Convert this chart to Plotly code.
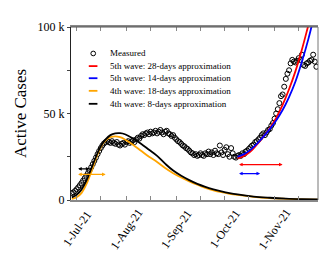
import pandas as pd
import plotly.graph_objects as go

# ---------------- data ----------------
base_date = pd.Timestamp("2021-07-01")
measured_start = "2021-06-28"
measured_k = [
    4.0, 4.4, 5.2, 6.2, 7.3, 8.5, 9.8, 11.2, 12.6, 14.0,
    15.5, 17.0, 18.8, 20.7, 22.6, 24.5, 26.5, 28.3, 30.0, 31.5,
    32.7, 33.5, 34.0, 33.5, 33.0, 34.0, 33.0, 32.5, 33.5, 32.0,
    31.5, 32.5, 33.0, 32.0, 33.5, 34.0, 33.0, 33.5, 34.5, 33.5,
    35.0, 36.0, 35.5, 37.0, 38.0, 37.5, 38.5, 39.0, 38.0, 39.5,
    38.5, 39.0, 40.0, 38.5, 39.5, 40.5, 39.0, 38.0, 39.5, 40.0,
    38.5, 38.0, 37.0, 37.5, 36.0, 35.0, 34.0, 33.5, 32.5, 31.5,
    31.0, 30.0, 29.5, 28.5, 27.5, 27.0, 26.0, 26.5, 25.5, 26.0,
    27.0, 26.0, 25.5, 27.0, 26.5, 28.0, 26.5, 27.5, 26.0, 28.5,
    27.0, 26.5, 31.5, 27.5, 26.0, 29.0, 30.5, 26.5, 25.0, 30.0,
    27.0, 25.0, 24.5, 25.5, 26.0, 25.5, 27.0, 26.5, 28.0, 28.5,
    29.5, 30.5, 31.5, 32.0, 33.5, 34.0, 35.0, 36.0, 37.5, 38.5,
    37.5, 39.0, 40.5, 41.0, 43.0, 44.5, 47.0, 50.0, 52.5, 56.0,
    60.0, 61.0, 65.5, 70.0, 73.0, 75.0, 79.0, 81.0, 80.0, 79.5,
    80.5, 82.0, 81.0, 84.0, 78.0, 77.5, 79.0, 79.5, 80.5, 81.0,
    84.0, 80.0, 77.0,
]

# model curves: day offset from 1-Jul-21 and value (thousands)
black_days = [-3, 0, 3, 6, 9, 12, 15, 18, 21, 24, 27, 30, 35, 40, 45, 50, 55, 60,
              65, 70, 75, 80, 85, 90, 95, 100, 110, 120, 130, 140, 150]
black_k = [1.5, 3.0, 6.0, 11.0, 18.0, 25.0, 31.0, 35.0, 37.5, 38.5, 38.6, 38.0,
           35.5, 32.5, 29.0, 25.5, 21.0, 17.0, 14.0, 11.5, 9.3, 7.6, 6.2, 5.0,
           4.0, 3.2, 2.0, 1.3, 0.8, 0.5, 0.3]
orange_days = [-3, 0, 3, 6, 9, 12, 15, 18, 21, 24, 27, 30, 35, 40, 45, 50, 55, 60,
               65, 70, 75, 80, 85, 90, 95, 100, 110, 120, 130, 140, 150]
orange_k = [0.6, 1.6, 4.0, 9.0, 16.0, 24.0, 30.5, 34.5, 36.3, 36.8, 36.3, 35.0,
            32.0, 28.5, 25.0, 22.0, 18.5, 15.5, 13.0, 10.8, 8.8, 7.0, 5.6, 4.5,
            3.6, 2.9, 1.8, 1.1, 0.7, 0.4, 0.2]
red_days = [100, 104, 108, 112, 116, 120, 124, 128, 132, 136, 140, 144, 146]
red_k = [24.0, 25.5, 28.0, 32.0, 36.5, 41.5, 47.5, 55.0, 64.0, 74.5, 87.0, 101.0, 108.0]
blue_days = [100, 104, 108, 112, 116, 120, 124, 128, 132, 136, 140, 144, 148]
blue_k = [25.0, 26.5, 29.0, 32.5, 36.5, 41.0, 46.0, 52.0, 59.5, 68.5, 80.0, 93.0, 108.0]

# horizontal window arrows: (start, end, level in thousands)
arrow_red = ("2021-10-09", "2021-11-06", 20.5)
arrow_blue = ("2021-10-09", "2021-10-23", 15.3)
arrow_black = ("2021-07-01", "2021-07-09", 18.0)
arrow_orange = ("2021-07-01", "2021-07-19", 14.8)

x_tick_vals = ["2021-07-01", "2021-07-16", "2021-08-01", "2021-08-16", "2021-09-01",
               "2021-09-16", "2021-10-01", "2021-10-16", "2021-11-01", "2021-11-16"]
x_label_vals = ["2021-07-01", "2021-08-01", "2021-09-01", "2021-10-01", "2021-11-01"]
x_label_text = ["1-Jul-21", "1-Aug-21", "1-Sep-21", "1-Oct-21", "1-Nov-21"]
y_tick_vals = [0, 25000, 50000, 75000, 100000]
y_tick_text = ["0", "", "50 k", "", "100 k"]

names = ["Measured", "5th wave: 28-days approximation", "5th wave: 14-days approximation",
         "4th wave: 18-days approximation", "4th wave: 8-days approximation"]
colors = ["#000000", "#ff0000", "#0000ff", "#ffa500", "#000000"]

# ---------------- figure ----------------
FONT = "Liberation Serif, Times New Roman, serif"

def to_dates(days):
    return [base_date + pd.Timedelta(days=d) for d in days]

measured_x = pd.date_range(measured_start, periods=len(measured_k), freq="D")

fig = go.Figure()
fig.add_trace(go.Scatter(
    x=measured_x, y=[v * 1000 for v in measured_k], mode="markers", name=names[0],
    marker=dict(symbol="circle-open", size=5, color="black", line=dict(width=1)),
))
for days, vals, color, nm in [
    (red_days, red_k, colors[1], names[1]),
    (blue_days, blue_k, colors[2], names[2]),
    (orange_days, orange_k, colors[3], names[3]),
    (black_days, black_k, colors[4], names[4]),
]:
    fig.add_trace(go.Scatter(
        x=to_dates(days), y=[v * 1000 for v in vals], mode="lines", name=nm,
        line=dict(color=color, width=1.8, shape="spline"),
    ))

for (s, e, lvl), color in [(arrow_red, colors[1]), (arrow_blue, colors[2]),
                           (arrow_black, "#000000"), (arrow_orange, colors[3])]:
    fig.add_annotation(
        x=e, y=lvl * 1000, ax=s, ay=lvl * 1000, xref="x", yref="y", axref="x", ayref="y",
        text="", showarrow=True, arrowside="end+start", arrowhead=2, arrowsize=0.6,
        arrowwidth=1.2, arrowcolor=color,
    )

for v, t in zip(x_label_vals, x_label_text):
    fig.add_annotation(
        x=v, y=-0.166, xref="x", yref="paper", text=t, showarrow=False, textangle=-55,
        xanchor="center", yanchor="middle", font=dict(family=FONT, size=12, color="black"),
    )

# hand-drawn legend (compact rows like the reference)
leg_rows = [0.847, 0.774, 0.704, 0.631, 0.556]
for i, (nm, col, ry) in enumerate(zip(names, colors, leg_rows)):
    if i == 0:
        fig.add_shape(type="circle", xref="paper", yref="paper",
                      x0=0.0805, x1=0.0995, y0=ry - 0.0135, y1=ry + 0.0135,
                      line=dict(color="black", width=1))
    else:
        fig.add_shape(type="line", xref="paper", yref="paper",
                      x0=0.072, x1=0.107, y0=ry, y1=ry, line=dict(color=col, width=1.8))
    fig.add_annotation(x=0.148, y=ry, xref="paper", yref="paper", text=nm,
                       showarrow=False, xanchor="left", yanchor="middle",
                       font=dict(family=FONT, size=9, color="black"))

# frame: top and right border lines
fig.add_shape(type="line", xref="paper", yref="paper", x0=0, x1=1, y0=1, y1=1,
              line=dict(color="#555555", width=1))
fig.add_shape(type="line", xref="paper", yref="paper", x0=1, x1=1, y0=0, y1=1,
              line=dict(color="#777777", width=1))

fig.update_layout(
    width=322, height=247,
    margin=dict(l=54, r=12, t=17, b=55),
    paper_bgcolor="white", plot_bgcolor="white",
    font=dict(family=FONT, size=12, color="black"),
    showlegend=False,
    xaxis=dict(
        type="date", range=["2021-06-27T12:00", "2021-11-28"],
        tickvals=x_tick_vals, ticktext=[""] * len(x_tick_vals),
        ticks="inside", ticklen=4, tickcolor="#888888", mirror="ticks",
        showline=True, linecolor="#888888", linewidth=2, showgrid=False, zeroline=False,
    ),
    yaxis=dict(
        range=[0, 100000], tickvals=y_tick_vals, ticktext=y_tick_text,
        ticks="outside", ticklen=3, tickcolor="#444444",
        showline=True, linecolor="#222222", linewidth=1, showgrid=False, zeroline=False,
        title=dict(text="Active Cases", font=dict(family=FONT, size=17), standoff=6),
        tickfont=dict(family=FONT, size=12),
    ),
)

fig.write_html("out.html")
